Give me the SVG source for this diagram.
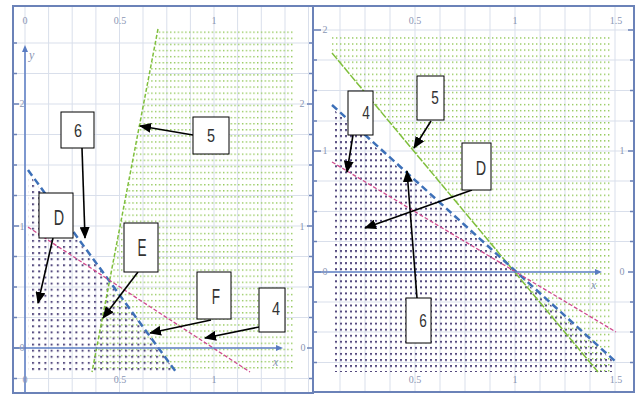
<svg xmlns="http://www.w3.org/2000/svg" width="639" height="395" viewBox="0 0 639 395">
<style>
.frame{fill:none;stroke:#6b82b8;stroke-width:2}
.grid{stroke:#d9dfeb;stroke-width:1;fill:none}
.tick{stroke:#6b82b8;stroke-width:1.5}
.axis{stroke:#5a7cc2;stroke-width:1.5;fill:none}
.num{font-family:"Liberation Serif",serif;font-size:10px;fill:#8a96b4;text-anchor:middle}
.ax{font-family:"Liberation Serif",serif;font-style:italic;font-size:12px;fill:#8a96b4}
.box{fill:#fff;stroke:#000;stroke-width:1}
.lbl{font-family:"Liberation Sans",Arial,sans-serif;font-size:16px;fill:#333;text-anchor:middle}
.arr{stroke:#000;stroke-width:1.6;fill:none;marker-end:url(#ah)}
.g{stroke:#7fbf3c;stroke-width:1.5;fill:none;stroke-dasharray:4 2}
.b{stroke:#3d70b8;stroke-width:2.5;fill:none;stroke-dasharray:7 4}
.p{stroke:#d04a8e;stroke-width:1.3;fill:none;stroke-dasharray:4 2}
</style>
<defs>
<marker id="ah" markerUnits="userSpaceOnUse" markerWidth="12" markerHeight="10" refX="11" refY="5" orient="auto">
<path d="M0,0 L12,5 L0,10 z" fill="#000"/>
</marker>
<pattern id="gL" patternUnits="userSpaceOnUse" x="0" y="1" width="3.78" height="6.1"><rect width="1.4" height="1.4" fill="#93c85a"/></pattern>
<pattern id="pL" patternUnits="userSpaceOnUse" x="1" y="2" width="6.2" height="6.1"><rect width="2" height="2" fill="#564c80"/></pattern>
<pattern id="gR" patternUnits="userSpaceOnUse" x="0" y="1" width="4" height="6.05"><rect width="1.4" height="1.4" fill="#93c85a"/></pattern>
<pattern id="pR" patternUnits="userSpaceOnUse" x="0" y="2" width="5" height="6.05"><rect width="2" height="2" fill="#564c80"/></pattern>
</defs>
<rect width="639" height="395" fill="#fff"/>

<g id="left-panel">
<g class="grid">
<path d="M48.6,6V393M72.2,6V393M95.9,6V393M119.5,6V393M143,6V393M166.8,6V393M190.4,6V393M214,6V393M237.6,6V393M261.3,6V393M285,6V393M308.5,6V393"/>
<path d="M13,378.5H313M13,317.5H313M13,287H313M13,256.5H313M13,226H313M13,195.5H313M13,165H313M13,134.5H313M13,104H313M13,73.5H313M13,43H313M25,6V393"/>
</g>
<polygon points="158,30 293,30 293,372 92,372" fill="url(#gL)"/>
<polygon points="28,173 176,372 28,372" fill="url(#pL)"/>
<path class="g" d="M158,29L92,372"/>
<path class="b" d="M28,170L176,372"/>
<path class="p" d="M28,227L250,372"/>
<path class="axis" d="M25,393V50M13,348H278"/>
<path d="M25,45l-3,7h6z" fill="#5a7cc2"/>
<path d="M283,348l-7,-3v6z" fill="#5a7cc2"/>
<path class="tick" d="M13,43h4M13,73.5h4M13,104h6M13,134.5h4M13,165h4M13,195.5h4M13,226h6M13,256.5h4M13,287h4M13,317.5h4M13,348h6M13,378.5h4M313,43h-4M313,73.5h-4M313,104h-6M313,134.5h-4M313,165h-4M313,195.5h-4M313,226h-6M313,256.5h-4M313,287h-4M313,317.5h-4M313,348h-6M313,378.5h-4"/>
<text class="num" x="25" y="24">0</text>
<text class="num" x="120" y="24">0.5</text>
<text class="num" x="214" y="24">1</text>
<text class="num" x="25" y="383">0</text>
<text class="num" x="120" y="383">0.5</text>
<text class="num" x="214" y="383">1</text>
<text class="num" x="22" y="107">2</text>
<text class="num" x="22" y="230">1</text>
<text class="num" x="22" y="351">0</text>
<text class="num" x="302" y="107">2</text>
<text class="num" x="302" y="230">1</text>
<text class="num" x="303" y="351">0</text>
<text class="ax" x="29" y="59">y</text>
<text class="ax" x="273" y="366">x</text>
<rect class="frame" x="13" y="6" width="300" height="387"/>
</g>

<g id="right-panel">
<g class="grid">
<path d="M340,6V392M365,6V392M390,6V392M415,6V392M440,6V392M465,6V392M490,6V392M515,6V392M540,6V392M565,6V392M590,6V392M615,6V392"/>
<path d="M313,30H634M313,60H634M313,90.5H634M313,121H634M313,151H634M313,181H634M313,211.5H634M313,241.5H634M313,302H634M313,332H634M313,362.5H634"/>
</g>
<polygon points="332,33 612,33 612,372 598,372 332,53" fill="url(#gR)"/>
<polygon points="332,108 612,360 612,372 332,372" fill="url(#pR)"/>
<path d="M332,53L598,372" stroke="#7fbf3c" stroke-width="1.5" fill="none" stroke-dasharray="8 1.5"/>
<path class="b" d="M332,105L616,362"/>
<path class="p" d="M332,162L616,332"/>
<path class="axis" d="M313,272H596"/>
<path d="M602,272l-7,-3v6z" fill="#5a7cc2"/>
<path class="tick" d="M313,30h8M313,60h4M313,90.5h4M313,121h4M313,151h8M313,181h4M313,211.5h4M313,241.5h4M313,272h8M313,302h4M313,332h4M313,362.5h4M634,30h-6M634,60h-4M634,90.5h-4M634,121h-4M634,151h-6M634,181h-4M634,211.5h-4M634,241.5h-4M634,272h-6M634,302h-4M634,332h-4M634,362.5h-4"/>
<text class="num" x="415" y="24">0.5</text>
<text class="num" x="515" y="24">1</text>
<text class="num" x="616" y="24">1.5</text>
<text class="num" x="415" y="383">0.5</text>
<text class="num" x="515" y="383">1</text>
<text class="num" x="616" y="383">1.5</text>
<text class="num" x="325" y="33">2</text>
<text class="num" x="325" y="154">1</text>
<text class="num" x="325" y="275">0</text>
<text class="num" x="622" y="154">1</text>
<text class="num" x="622" y="275">0</text>
<text class="ax" x="591" y="289">x</text>
<rect class="frame" x="313" y="6" width="321" height="386"/>
</g>

<g id="connectors">
<path class="arr" d="M82,148L85,238"/>
<path class="arr" d="M193,135L140,126"/>
<path class="arr" d="M53,238L38,303"/>
<path class="arr" d="M138,272L103,318"/>
<path class="arr" d="M211,320L150,333"/>
<path class="arr" d="M259,327L205,338"/>
<path class="arr" d="M353,135L347,172"/>
<path class="arr" d="M431,121L414,148"/>
<path class="arr" d="M472,190L365,228"/>
<path class="arr" d="M417,298L407,171"/>
</g>

<g id="label-6-left"><rect class="box" x="61" y="112" width="33" height="36"/><text class="lbl" transform="translate(78,137) scale(0.9,1.2)">6</text></g>
<g id="label-5-left"><rect class="box" x="193" y="117" width="36" height="37"/><text class="lbl" transform="translate(211,142) scale(0.9,1.2)">5</text></g>
<g id="label-D-left"><rect class="box" x="39" y="193" width="34" height="45"/><text class="lbl" transform="translate(59,225) scale(0.9,1.35)">D</text></g>
<g id="label-E-left"><rect class="box" x="124" y="223" width="34" height="49"/><text class="lbl" transform="translate(142,256) scale(0.85,1.45)">E</text></g>
<g id="label-F-left"><rect class="box" x="197" y="272" width="34" height="47"/><text class="lbl" transform="translate(216,304) scale(0.85,1.35)">F</text></g>
<g id="label-4-left"><rect class="box" x="259" y="288" width="26" height="44"/><text class="lbl" transform="translate(276,315) scale(0.9,1.2)">4</text></g>
<g id="label-4-right"><rect class="box" x="348" y="91" width="25" height="44"/><text class="lbl" transform="translate(366,119) scale(0.85,1.1)">4</text></g>
<g id="label-5-right"><rect class="box" x="417" y="76" width="27" height="44"/><text class="lbl" transform="translate(435,104) scale(0.85,1.2)">5</text></g>
<g id="label-D-right"><rect class="box" x="462" y="143" width="29" height="47"/><text class="lbl" transform="translate(481,175) scale(0.9,1.3)">D</text></g>
<g id="label-6-right"><rect class="box" x="406" y="298" width="25" height="45"/><text class="lbl" transform="translate(423,327) scale(0.85,1.2)">6</text></g>
</svg>
